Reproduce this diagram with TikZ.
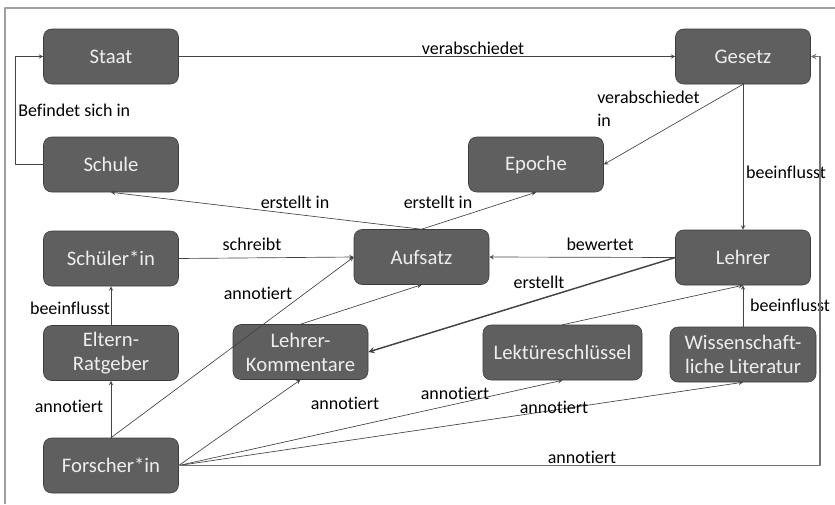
\documentclass[tikz,border=0pt]{standalone}
\usepackage{fontspec}
\setmainfont{Carlito}[Ligatures=NoCommon]
\usepackage{xcolor}
\usepackage{tikz}
\usetikzlibrary{calc}
\usetikzlibrary{arrows}
\usetikzlibrary{positioning}
\definecolor{boxfill}{HTML}{5F5F5F}
\definecolor{boxline}{HTML}{3C3C3C}
\definecolor{boxtext}{HTML}{EEEEEE}
\definecolor{linkline}{HTML}{444444}
\definecolor{frameline}{HTML}{A0A0A0}
\tikzset{
  concept/.style={draw=boxline, fill=boxfill, rounded corners=6pt, text=boxtext,
    minimum width=101.25pt, minimum height=41.25pt, inner sep=2pt, align=center,
    font=\fontsize{15.5}{18}\selectfont},
  rel/.style={text=black, inner sep=0pt, font=\fontsize{13.5}{17}\selectfont},
  link/.style={->, draw=linkline, line width=0.5pt},
}
\begin{document}
\begin{tikzpicture}[x=0.75pt, y=-0.75pt, line cap=round, line join=round, >=stealth]
  \useasboundingbox (0,0) rectangle (835,504);
  %--- Frame
    \draw[frameline, line width=1.5pt, line cap=butt] (5,504) -- (5,8) -- (835,8);
  %--- Concepts
    \node[concept] (staat) at (111,56.5) {Staat};
    \node[concept] (gesetz) at (743,56.5) {Gesetz};
    \node[concept] (schule) at (111,164.5) {Schule};
    \node[concept] (epoche) at (536,164.5) {Epoche};
    \node[concept] (schueler) at (111,258.5) {Schüler*in};
    \node[concept] (aufsatz) at (421.5,257) {Aufsatz};
    \node[concept] (lehrer) at (743,257.5) {Lehrer};
    \node[concept] (eltern) at (111,353) {Eltern-\\Ratgeber};
    \node[concept] (kommentare) at (300.5,352) {Lehrer-\\Kommentare};
    \node[concept, minimum width=119.25pt] (lektuere) at (562.5,352.5) {Lektüreschlüssel};
    \node[concept, minimum width=109.5pt] (literatur) at (743,354.5) {Wissenschaft-\\liche Literatur};
    \node[concept] (forscher) at (111,465.5) {Forscher*in};
  %--- Staat / Schule / Gesetz
    \draw[link] (staat) -- (gesetz);
    \node[rel] (verab) at (473,48) {verabschiedet};
    \coordinate (schuleleft) at (15,164.5);
    \coordinate (staatleft) at (15,56.5);
    \draw[link] (schule.west) -- (schuleleft) -- (staatleft) -- (staat.west);
    \node[rel, anchor=west] (befindet) at (18,110) {Befindet sich in};
    \draw[link] (gesetz.south) -- (epoche.east);
    \node[rel, anchor=west, align=left] (verabin) at (597,108.5) {verabschiedet\\in};
    \draw[link] (gesetz.south) -- (lehrer.north);
    \node[rel] (beeinfl1) at (786,172) {beeinflusst};
  %--- Aufsatz
    \draw[link] (aufsatz.north) -- (schule.south);
    \node[rel] (erstellt1) at (295,202) {erstellt in};
    \draw[link] (aufsatz.north) -- (epoche.south);
    \node[rel] (erstellt2) at (438,202) {erstellt in};
    \draw[link] (schueler.east) -- (aufsatz.west);
    \node[rel] (schreibt) at (252,244) {schreibt};
    \draw[link] (lehrer.west) -- (aufsatz.east);
    \node[rel] (bewertet) at (600,244) {bewertet};
    \draw[link, line width=1.1pt] (lehrer.west) -- (kommentare.east);
    \node[rel] (erstellt3) at (539,282) {erstellt};
    \draw[link] (kommentare.north) -- (aufsatz.south);
    \draw[link] (lektuere.north) -- (lehrer.south);
    \draw[link] (literatur.north) -- (lehrer.south);
    \node[rel] (beeinfl3) at (790,305) {beeinflusst};
    \draw[link] (eltern.north) -- (schueler.south);
    \node[rel] (beeinfl2) at (70,308) {beeinflusst};
  %--- Forscher*in
    \draw[link] (forscher.north) -- (aufsatz.west);
    \node[rel] (anno1) at (258,293) {annotiert};
    \draw[link] (forscher.north) -- (eltern.south);
    \node[rel] (anno2) at (69,406) {annotiert};
    \draw[link] (forscher.east) -- (kommentare.south);
    \node[rel] (anno3) at (345,403) {annotiert};
    \draw[link] (forscher.east) -- (lektuere.south);
    \node[rel] (anno4) at (455,393) {annotiert};
    \draw[link] (forscher.east) -- (literatur.south);
    \node[rel] (anno5) at (554,407) {annotiert};
    \coordinate (bottomright) at (820,465.5);
    \coordinate (topright) at (820,56.5);
    \draw[link, draw=black!55, line width=0.9pt] (forscher.east) -- (bottomright) -- (topright) -- (gesetz.east);
    \node[rel] (anno6) at (582,457) {annotiert};
  \end{tikzpicture}
\end{document}
